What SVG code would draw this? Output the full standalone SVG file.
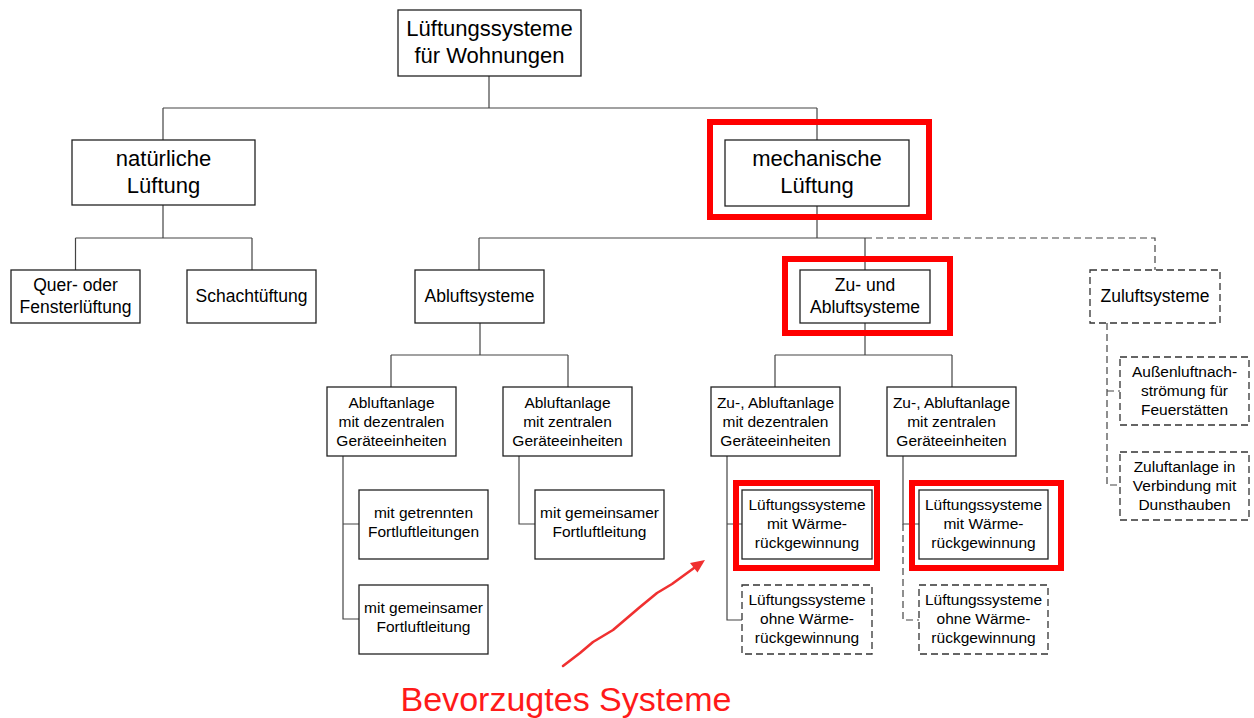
<svg xmlns="http://www.w3.org/2000/svg" width="1254" height="718" viewBox="0 0 1254 718">
<style>
.bx{fill:#fff;stroke:#222;stroke-width:1.3}
.dbx{fill:#fff;stroke:#333;stroke-width:1.3;stroke-dasharray:7 4}
.hl{fill:none;stroke:#ff0000;stroke-width:6}
.c{fill:none;stroke:#444;stroke-width:1.2}
.dc{fill:none;stroke:#444;stroke-width:1.2;stroke-dasharray:7 4}
text{font-family:"Liberation Sans",Arial,sans-serif;fill:#000;text-anchor:middle}
.t1{font-size:22px}
.t2{font-size:17.5px}
.t3{font-size:15.5px}
</style>
<rect width="1254" height="718" fill="#fff"/>
<g id="connectors">
<path class="c" d="M489 76V108M163 108H817M163 108V140M817 108V140"/>
<path class="c" d="M163 205V238M75.5 238H252M75.5 238V270M252 238V270"/>
<path class="c" d="M817 206V238M479 238H865M479 238V270M865 238V270"/>
<path class="dc" d="M865 238H1155V270"/>
<path class="c" d="M480 323V355M391 355H568M391 355V387M568 355V387"/>
<path class="c" d="M343 456V619H359M343 524H359"/>
<path class="c" d="M519 456V524H535"/>
<path class="c" d="M865 323V355M775 355H952M775 355V387M952 355V387"/>
<path class="c" d="M727 456V620H742M727 524H742"/>
<path class="c" d="M903 456V524H919"/>
<path class="dc" d="M903 524V620H919"/>
<path class="dc" d="M1107 323V485H1120M1107 391H1120"/>
</g>
<g id="n-root"><rect class="bx" x="398" y="10" width="183" height="66"/><text class="t1" x="489.5" y="36">Lüftungssysteme</text><text class="t1" x="489.5" y="63">für Wohnungen</text></g>
<g id="n-natuerlich"><rect class="bx" x="72" y="140" width="183" height="65"/><text class="t1" x="163.5" y="166">natürliche</text><text class="t1" x="163.5" y="193">Lüftung</text></g>
<g id="n-mechanisch"><rect class="hl" x="710" y="122" width="219" height="95"/><rect class="bx" x="725" y="140" width="184" height="66"/><text class="t1" x="817" y="166">mechanische</text><text class="t1" x="817" y="193">Lüftung</text></g>
<g id="n-quer"><rect class="bx" x="11" y="270" width="129" height="53"/><text class="t2" x="75.5" y="291">Quer- oder</text><text class="t2" x="75.5" y="313">Fensterlüftung</text></g>
<g id="n-schacht"><rect class="bx" x="187" y="270" width="129" height="53"/><text class="t2" x="251.5" y="302">Schachtüftung</text></g>
<g id="n-abluft"><rect class="bx" x="415" y="270" width="129" height="53"/><text class="t2" x="479.5" y="302">Abluftsysteme</text></g>
<g id="n-zuab"><rect class="hl" x="785" y="259" width="165" height="74"/><rect class="bx" x="800" y="270" width="130" height="53"/><text class="t2" x="865" y="291">Zu- und</text><text class="t2" x="865" y="313">Abluftsysteme</text></g>
<g id="n-zuluft"><rect class="dbx" x="1090" y="270" width="130" height="53"/><text class="t2" x="1155" y="302">Zuluftsysteme</text></g>
<g id="n-ab-dez"><rect class="bx" x="327" y="387" width="129" height="69"/><text class="t3" x="391.5" y="408">Abluftanlage</text><text class="t3" x="391.5" y="427">mit dezentralen</text><text class="t3" x="391.5" y="445.5">Geräteeinheiten</text></g>
<g id="n-ab-zen"><rect class="bx" x="503" y="387" width="129" height="69"/><text class="t3" x="567.5" y="408">Abluftanlage</text><text class="t3" x="567.5" y="427">mit zentralen</text><text class="t3" x="567.5" y="445.5">Geräteeinheiten</text></g>
<g id="n-zuab-dez"><rect class="bx" x="711" y="387" width="129" height="69"/><text class="t3" x="775.5" y="408">Zu-, Abluftanlage</text><text class="t3" x="775.5" y="427">mit dezentralen</text><text class="t3" x="775.5" y="445.5">Geräteeinheiten</text></g>
<g id="n-zuab-zen"><rect class="bx" x="887" y="387" width="129" height="69"/><text class="t3" x="951.5" y="408">Zu-, Abluftanlage</text><text class="t3" x="951.5" y="427">mit zentralen</text><text class="t3" x="951.5" y="445.5">Geräteeinheiten</text></g>
<g id="n-getrennt"><rect class="bx" x="359" y="490" width="129" height="69"/><text class="t3" x="423.5" y="518">mit getrennten</text><text class="t3" x="423.5" y="537">Fortluftleitungen</text></g>
<g id="n-gemeinsam1"><rect class="bx" x="359" y="585" width="129" height="69"/><text class="t3" x="423.5" y="613">mit gemeinsamer</text><text class="t3" x="423.5" y="632">Fortluftleitung</text></g>
<g id="n-gemeinsam2"><rect class="bx" x="535" y="490" width="129" height="69"/><text class="t3" x="599.5" y="518">mit gemeinsamer</text><text class="t3" x="599.5" y="537">Fortluftleitung</text></g>
<g id="n-wrg1"><rect class="hl" x="736" y="483" width="141" height="85"/><rect class="bx" x="742" y="490" width="130" height="69"/><text class="t3" x="807" y="510">Lüftungssysteme</text><text class="t3" x="807" y="529">mit Wärme-</text><text class="t3" x="807" y="548">rückgewinnung</text></g>
<g id="n-ohne1"><rect class="dbx" x="742" y="585" width="130" height="69"/><text class="t3" x="807" y="605">Lüftungssysteme</text><text class="t3" x="807" y="624">ohne Wärme-</text><text class="t3" x="807" y="643">rückgewinnung</text></g>
<g id="n-wrg2"><rect class="hl" x="912" y="483" width="149" height="85"/><rect class="bx" x="919" y="490" width="129" height="69"/><text class="t3" x="983.5" y="510">Lüftungssysteme</text><text class="t3" x="983.5" y="529">mit Wärme-</text><text class="t3" x="983.5" y="548">rückgewinnung</text></g>
<g id="n-ohne2"><rect class="dbx" x="919" y="585" width="129" height="69"/><text class="t3" x="983.5" y="605">Lüftungssysteme</text><text class="t3" x="983.5" y="624">ohne Wärme-</text><text class="t3" x="983.5" y="643">rückgewinnung</text></g>
<g id="n-aussenluft"><rect class="dbx" x="1120" y="357" width="129" height="68"/><text class="t3" x="1184.5" y="377">Außenluftnach-</text><text class="t3" x="1184.5" y="396">strömung für</text><text class="t3" x="1184.5" y="414.5">Feuerstätten</text></g>
<g id="n-dunst"><rect class="dbx" x="1120" y="452" width="129" height="68"/><text class="t3" x="1184.5" y="472">Zuluftanlage in</text><text class="t3" x="1184.5" y="491">Verbindung mit</text><text class="t3" x="1184.5" y="509.5">Dunsthauben</text></g>
<g id="annotation">
<path d="M563 666L580 653L593 642L613 630L640 607L657 593L672 584L694 568" fill="none" stroke="#f03030" stroke-width="2.6" stroke-linecap="round" stroke-linejoin="round"/>
<polygon points="705,560 697.5,572.5 690,563" fill="#f03030"/>
<text x="566" y="711" style="font-size:34px;fill:#ff1a1a" textLength="331" lengthAdjust="spacingAndGlyphs">Bevorzugtes Systeme</text>
</g>
</svg>
